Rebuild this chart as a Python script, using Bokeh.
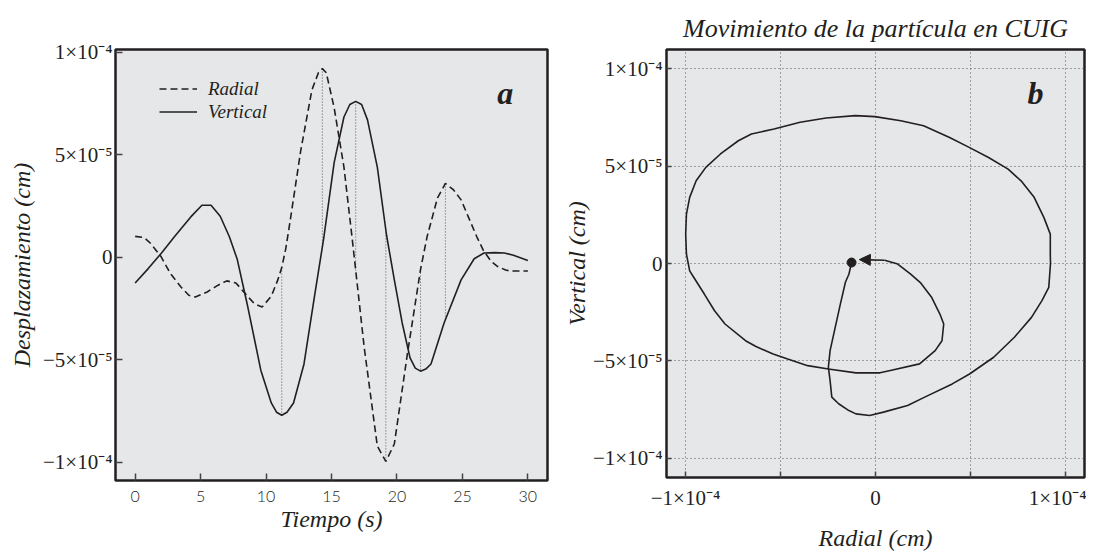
import numpy as np
from bokeh.plotting import figure
from bokeh.layouts import row
from bokeh.models import (Legend, LegendItem, Label, Arrow, NormalHead, FixedTicker,
                          Range1d, CustomJSTickFormatter)
from bokeh.embed import file_html
from bokeh.resources import INLINE

S = 1e-5  # values below are in units of 1e-5 cm

# ---- panel a: time series ----
t_rad = [0, 0.7, 1.2, 2.0, 2.7, 3.5, 4.1, 4.6, 5.5, 6.3, 7.0, 7.7, 8.3, 9.1, 9.7, 10.4,
         10.9, 11.2, 11.5, 11.8, 12.65, 13.5, 14.0, 14.3, 14.6, 15.2, 15.95, 16.6, 17.5,
         18.5, 19.15, 19.8, 20.8, 21.8, 22.3, 23.1, 23.7, 24.3, 24.9, 25.5, 26.1, 26.6,
         27.2, 27.7, 28.3, 28.7, 30.0]
radial = [1.02, 0.96, 0.67, 0.01, -0.8, -1.45, -1.85, -1.94, -1.69, -1.37, -1.15, -1.25,
          -1.69, -2.26, -2.42, -1.9, -1.1, -0.5, 0.4, 1.6, 5.2, 8.15, 9.0, 9.2, 9.0, 7.3,
          4.4, 0.8, -4.4, -9.2, -9.95, -9.1, -4.7, -0.6, 1.0, 2.9, 3.6, 3.3, 2.8, 1.9, 1.0,
          0.34, -0.2, -0.45, -0.62, -0.67, -0.67]

t_ver = [0, 1.0, 2.0, 3.0, 4.25, 5.1, 5.8, 6.5, 7.2, 7.8, 8.6, 9.6, 10.4, 10.8, 11.2, 11.6,
         12.1, 12.9, 13.7, 14.4, 15.2, 15.95, 16.4, 16.85, 17.3, 17.75, 18.5, 19.2, 19.8,
         20.4, 21.0, 21.4, 21.8, 22.2, 22.6, 23.6, 24.9, 25.9, 26.65, 27.5, 28.2, 28.9, 30.0]
vertical = [-1.25, -0.55, 0.2, 1.0, 1.97, 2.54, 2.54, 2.0, 1.0, -0.1, -2.4, -5.5, -7.1,
            -7.55, -7.7, -7.55, -7.1, -5.2, -1.9, 0.9, 4.6, 6.84, 7.45, 7.6, 7.45, 6.7, 4.4,
            1.1, -1.1, -3.2, -4.9, -5.4, -5.55, -5.45, -5.2, -3.2, -1.1, -0.07, 0.21, 0.23,
            0.21, 0.1, -0.15]

# times of the extrema joined by dotted lines
ext_t = [11.2, 14.3, 16.85, 19.15, 21.8, 23.7]

x_ticks_a = [0, 5, 10, 15, 20, 25, 30]
y_ticks = [-1e-4, -5e-5, 0, 5e-5, 1e-4]

# ---- panel b: particle motion ----
traj_r = [-1.26, -1.4, -1.58, -1.85, -2.12, -2.39, -2.48, -2.39, -2.3, -1.94, -1.4, -1.03,
          -0.31, 0.42, 1.69, 2.59, 4.04, 4.95, 6.22, 7.31, 8.21, 8.76, 9.12, 9.21, 9.2, 9.2,
          8.86, 8.35, 7.66, 6.98, 5.95, 4.93, 3.9, 2.53, 1.33, -0.03, -1.06, -2.6, -3.97,
          -5.34, -6.53, -7.22, -8.16, -8.93, -9.44, -9.78, -9.95, -9.99, -9.95, -9.78,
          -9.56, -9.01, -8.47, -7.92, -6.84, -6.29, -5.39, -4.66, -3.57, -2.48, -1.03,
          0.24, 0.78, 2.32, 3.14, 3.5, 3.59, 3.39, 2.96, 2.36, 1.85, 1.17, 0.48, -0.85]
traj_v = [0.05, -0.55, -0.95, -2.09, -3.28, -4.48, -5.33, -6.02, -6.87, -7.21, -7.56,
          -7.73, -7.81, -7.64, -7.3, -6.87, -6.19, -5.68, -4.82, -3.79, -2.77, -1.91, -1.23,
          0.0, 0.48, 1.51, 2.37, 3.4, 4.25, 4.85, 5.45, 5.97, 6.48, 7.08, 7.34, 7.55, 7.6,
          7.48, 7.26, 6.91, 6.66, 6.31, 5.63, 4.94, 4.25, 3.4, 2.54, 1.51, 0.48, -0.38,
          -0.72, -1.57, -2.43, -3.11, -3.97, -4.27, -4.65, -4.9, -5.25, -5.42, -5.62, -5.62,
          -5.5, -5.16, -4.48, -3.97, -3.11, -2.6, -1.75, -0.98, -0.55, -0.03, 0.17, 0.2]
b_ticks = [-1e-4, -5e-5, 0, 5e-5, 1e-4]

INK = "#231f20"
BG = "#e6e7e8"
SERIF = "Liberation Serif"

FMT_CODE = """
if (Math.abs(tick) < 1e-15) return "0";
const sup = {"0":"\u2070","1":"\u00b9","2":"\u00b2","3":"\u00b3","4":"\u2074","5":"\u2075",
             "6":"\u2076","7":"\u2077","8":"\u2078","9":"\u2079","-":"\u207b"};
const e = Math.floor(Math.log10(Math.abs(tick)) + 1e-9);
const m = Math.round(tick / Math.pow(10, e));
if (skip_half && Math.abs(m) == 5) return "";
const es = String(e).split("").map(c => sup[c]).join("");
return (m < 0 ? "\u2212" : "") + Math.abs(m) + "\u00d710" + es;
"""


def sci_fmt(skip_half=False):
    return CustomJSTickFormatter(code=FMT_CODE, args=dict(skip_half=skip_half))


def style_common(p):
    p.background_fill_color = BG
    p.border_fill_color = "white"
    p.outline_line_color = INK
    p.outline_line_width = 2.5
    p.outline_line_alpha = 1
    for ax in (p.xaxis[0], p.yaxis[0]):
        ax.axis_line_color = None
        ax.major_tick_line_color = "#444444"
        ax.major_tick_line_width = 1.5
        ax.major_tick_out = 0
        ax.minor_tick_line_color = None
        ax.axis_label_text_font = SERIF
        ax.axis_label_text_font_style = "italic"
        ax.axis_label_text_font_size = "24px"
        ax.axis_label_text_color = INK
        ax.major_label_text_color = INK


# ---------------- panel a ----------------
p1 = figure(frame_width=432, frame_height=431, output_backend="svg", toolbar_location=None,
            x_range=Range1d(-1.5, 31.5), y_range=Range1d(-1.088e-4, 1.013e-4),
            min_border_left=115, min_border_right=13, min_border_top=49,
            min_border_bottom=62)
style_common(p1)
p1.xgrid.visible = False
p1.ygrid.visible = False

p1.xaxis.ticker = FixedTicker(ticks=x_ticks_a)
p1.xaxis.major_tick_in = 7
p1.xaxis.major_label_text_font = "Lato Light"
p1.xaxis.major_label_text_font_size = "16px"
p1.xaxis.major_label_standoff = 10
p1.xaxis.axis_label = "Tiempo (s)"
p1.xaxis.axis_label_standoff = 1

p1.yaxis.ticker = FixedTicker(ticks=y_ticks)
p1.yaxis.formatter = sci_fmt()
p1.yaxis.major_tick_in = 7
p1.yaxis.major_label_text_font = SERIF
p1.yaxis.major_label_text_font_size = "21px"
p1.yaxis.major_label_standoff = 3
p1.yaxis.axis_label = "Desplazamiento (cm)"
p1.yaxis.axis_label_standoff = 5

rad_cm = np.array(radial) * S
ver_cm = np.array(vertical) * S
ext_rad = np.interp(ext_t, t_rad, radial) * S
ext_ver = np.interp(ext_t, t_ver, vertical) * S

p1.segment(x0=ext_t, y0=ext_rad, x1=ext_t, y1=ext_ver, line_color="#555555",
           line_width=1, line_dash="1 2")
r_rad = p1.line(t_rad, rad_cm, line_color=INK, line_width=1.6, line_dash="7 4")
r_ver = p1.line(t_ver, ver_cm, line_color=INK, line_width=1.6)

legend = Legend(items=[LegendItem(label="Radial", renderers=[r_rad]),
                       LegendItem(label="Vertical", renderers=[r_ver])],
                location=(44, 357), glyph_width=38, glyph_height=23, label_height=23,
                label_standoff=11, spacing=0, padding=0, margin=0,
                label_text_font=SERIF, label_text_font_style="italic",
                label_text_font_size="19px", label_text_color=INK,
                background_fill_alpha=0, border_line_alpha=0)
p1.add_layout(legend)

p1.add_layout(Label(x=27.66, y=7.15e-5, text="a", text_font=SERIF,
                    text_font_style="bold italic", text_font_size="32px",
                    text_color=INK))

# ---------------- panel b ----------------
p2 = figure(frame_width=418, frame_height=428, output_backend="svg", toolbar_location=None,
            x_range=Range1d(-1.1e-4, 1.1e-4), y_range=Range1d(-1.1e-4, 1.1e-4),
            min_border_left=104, min_border_right=2, min_border_top=49,
            min_border_bottom=66)
style_common(p2)
p2.title.text = "Movimiento de la partícula en CUIG"
p2.title.align = "center"
p2.title.text_font = SERIF
p2.title.text_font_style = "italic"
p2.title.text_font_size = "26px"
p2.title.text_color = INK
p2.title.standoff = 14

p2.xaxis.ticker = FixedTicker(ticks=b_ticks)
p2.xaxis.formatter = sci_fmt(skip_half=True)
p2.xaxis.major_tick_in = 6
p2.xaxis.major_label_text_font = SERIF
p2.xaxis.major_label_text_font_size = "21px"
p2.xaxis.major_label_standoff = 8
p2.xaxis.axis_label = "Radial (cm)"
p2.xaxis.axis_label_standoff = 12

p2.yaxis.ticker = FixedTicker(ticks=b_ticks)
p2.yaxis.formatter = sci_fmt()
p2.yaxis.major_tick_in = 5
p2.yaxis.major_label_text_font = SERIF
p2.yaxis.major_label_text_font_size = "21px"
p2.yaxis.major_label_standoff = 4
p2.yaxis.axis_label = "Vertical (cm)"
p2.yaxis.axis_label_standoff = 0

for g in (p2.xgrid[0], p2.ygrid[0]):
    g.ticker = FixedTicker(ticks=b_ticks)
    g.grid_line_color = "#555555"
    g.grid_line_dash = "1 3"
    g.grid_line_width = 1

tr = np.array(traj_r) * S
tv = np.array(traj_v) * S
p2.line(tr[:-1], tv[:-1], line_color=INK, line_width=1.6)
p2.add_layout(Arrow(end=NormalHead(size=11, fill_color=INK, line_color=INK, line_width=1),
                    x_start=tr[-2], y_start=tv[-2], x_end=tr[-1], y_end=tv[-1],
                    line_color=INK, line_width=1.6))
p2.scatter([tr[0]], [tv[0]], size=9, color=INK)

p2.add_layout(Label(x=8.0e-5, y=7.84e-5, text="b", text_font=SERIF,
                    text_font_style="bold italic", text_font_size="32px",
                    text_color=INK))

layout = row(p1, p2, spacing=0)
open("out.html", "w").write(file_html(layout, INLINE))
